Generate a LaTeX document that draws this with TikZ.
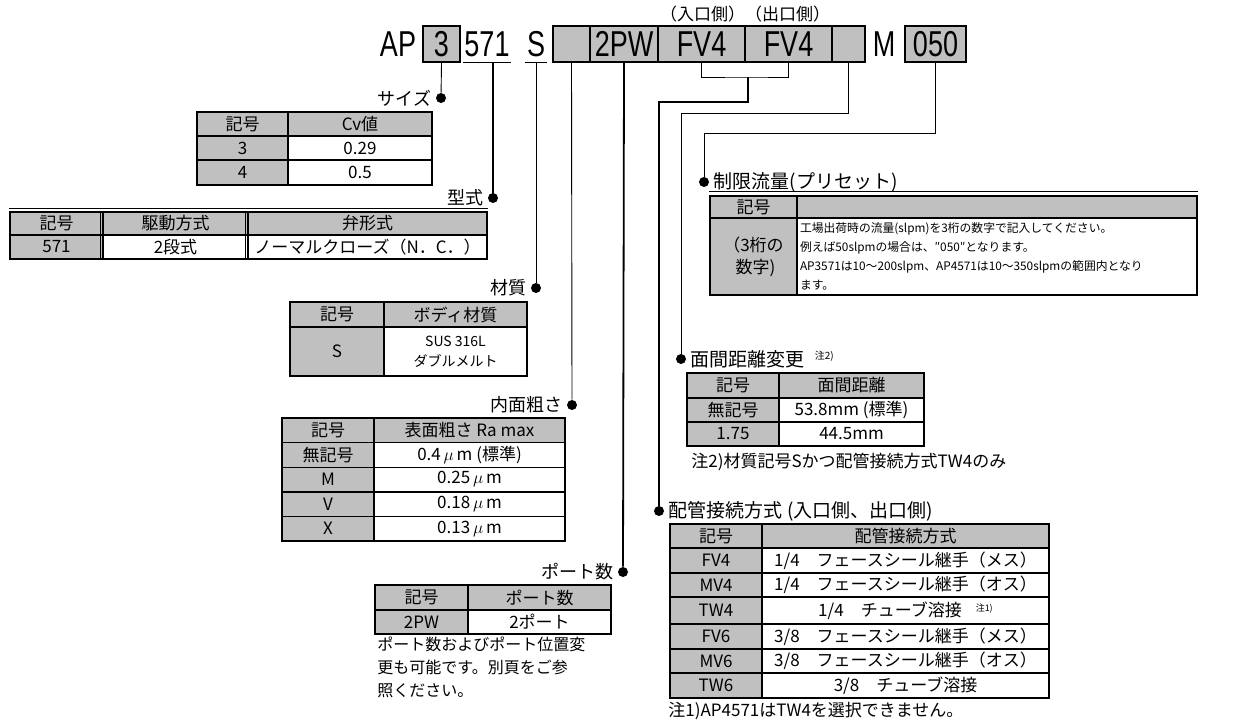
\documentclass[tikz,border=0pt]{standalone}
\usepackage{fontspec}
\setmainfont{Noto Sans CJK JP}
\newfontfamily\codefont[FakeStretch=0.75]{Liberation Sans}
\usetikzlibrary{positioning}
\definecolor{cellgray}{RGB}{192,192,192}

\begin{document}
\begin{tikzpicture}[
  x=1pt, y=-1pt, line width=0.8pt,
  codebox/.style={rectangle, draw=black, line width=2.2pt, fill=cellgray, inner sep=0pt, minimum height=36pt, font=\codefont\fontsize{36}{36}\selectfont},
  codetext/.style={rectangle, inner sep=0pt, minimum height=36pt, font=\codefont\fontsize{36}{36}\selectfont},
  keycell/.style={rectangle, draw=black, line width=1.4pt, fill=cellgray, inner sep=0pt, font=\fontsize{17}{20}\selectfont},
  valcell/.style={keycell, fill=white},
  dot/.style={circle, fill=black, inner sep=0pt, minimum size=10pt},
  lbl/.style={inner sep=1pt, font=\fontsize{18}{20}\selectfont},
  rlbl/.style={inner sep=1pt, font=\fontsize{19}{21}\selectfont},
  note/.style={inner sep=0pt, font=\fontsize{17}{23}\selectfont, align=left},
  thinline/.style={line width=0.9pt},
  thickline/.style={line width=1.8pt}
]
\useasboundingbox (0,0) rectangle (1239,722);

% code row
\node[codetext] (tAP) at (398,44) {AP};
\node[codebox, minimum width=37pt] (b3) at (441.5,44) {3};
\node[codetext, minimum width=47pt] (t571) at (487,44) {571};
\node[codetext, minimum width=22pt] (tS) at (536,44) {S};
\node[codebox, minimum width=37pt] (bA) at (571.5,44) {};
\node[codebox, minimum width=68pt] (b2PW) at (624,44) {2PW};
\node[codebox, minimum width=87pt] (bFVin) at (701.5,44) {FV4};
\node[codebox, minimum width=87pt] (bFVout) at (788.5,44) {FV4};
\node[codebox, minimum width=33pt] (bB) at (848.5,44) {};
\node[codetext] (tM) at (884,44) {M};
\node[codebox, minimum width=61pt] (b050) at (935.5,44) {050};
\node[lbl, font=\fontsize{17}{18}\selectfont] (tSide) at (745,14) {（入口側）（出口側）};
\draw (t571.south west) -- (t571.south east);
\draw (tS.south west) -- (tS.south east);

% dots and labels
\node[dot] (d3) at (441,98) {};
\node[dot] (d571) at (493,198) {};
\node[dot] (dS) at (536,288) {};
\node[dot] (dA) at (572,405) {};
\node[dot] (d2PW) at (623,572) {};
\node[dot] (dFlow) at (704,182) {};
\node[dot] (dFace) at (681,359) {};
\node[dot] (dPipe) at (659,511) {};
\coordinate (brk) at (748,77);

\node[lbl, left=3pt of d3] (lSize) {サイズ};
\node[lbl, left=3pt of d571] (lType) {型式};
\node[lbl, left=3pt of dS] (lMat) {材質};
\node[lbl, left=3pt of dA] (lRough) {内面粗さ};
\node[lbl, left=3pt of d2PW] (lPort) {ポート数};
\node[rlbl, right=3pt of dFlow] (lFlow) {制限流量(プリセット)};
\node[rlbl, right=3pt of dFace] (lFace) {面間距離変更\hspace{10pt}\raisebox{7pt}{\fontsize{10}{10}\selectfont 注2)}};
\node[rlbl, right=3pt of dPipe] (lPipe) {配管接続方式 (入口側、出口側)};

% connectors
\draw[thinline] (b3.south) -- (d3);
\draw[thickline] (d571 |- t571.south) -- (d571);
\draw[thinline] (tS.south) -- (dS);
\draw[thinline] (bA.south) -- (dA);
\draw[thickline] (b2PW.south) -- (d2PW);
\draw[thinline] (bFVin.south) |- (brk) -| (bFVout.south);
\draw[thickline] (brk) -- ++(0,25) -| (dPipe);
\draw[thinline] (bB.south) -- ++(0,50) -| (dFace);
\draw[thinline] (b050.south) -- ++(0,70) -| (dFlow);

% size
\node[keycell, minimum width=91pt, minimum height=24pt] (sH1) at (242.5,124) {記号};
\node[keycell, minimum width=144pt, minimum height=24pt] (sH2) at (360,124) {Cv値};
\node[keycell, minimum width=91pt, minimum height=24pt] (s3a) at (242.5,148) {3};
\node[valcell, minimum width=144pt, minimum height=24pt] (s3b) at (360,148) {0.29};
\node[keycell, minimum width=91pt, minimum height=25pt] (s4a) at (242.5,172.5) {4};
\node[valcell, minimum width=144pt, minimum height=25pt] (s4b) at (360,172.5) {0.5};

% type
\node[keycell, minimum width=93pt, minimum height=23pt] (kH1) at (56.5,223.5) {記号};
\node[keycell, minimum width=145pt, minimum height=23pt] (kH2) at (175.5,223.5) {駆動方式};
\node[keycell, minimum width=239pt, minimum height=23pt] (kH3) at (367.5,223.5) {弁形式};
\node[keycell, minimum width=93pt, minimum height=24pt] (k571) at (56.5,247) {571};
\node[valcell, minimum width=145pt, minimum height=24pt] (k2dan) at (175.5,247) {2段式};
\node[valcell, minimum width=239pt, minimum height=24pt] (kNC) at (367.5,247) {ノーマルクローズ（N．C．）};
\draw[line width=0.7pt] ([yshift=3pt]kH1.north west) -- ([yshift=3pt]kH3.north east);
\draw[line width=0.7pt] ([xshift=-3.5pt]kH1.north east) -- ([xshift=-3.5pt]k571.south east);
\draw[line width=0.7pt] ([xshift=-3.5pt]kH2.north east) -- ([xshift=-3.5pt]k2dan.south east);

% material
\node[keycell, minimum width=94pt, minimum height=25pt] (mH1) at (337,314.5) {記号};
\node[keycell, minimum width=143pt, minimum height=25pt] (mH2) at (455.5,314.5) {ボディ材質};
\node[keycell, minimum width=94pt, minimum height=49pt] (mS) at (337,351.5) {S};
\node[valcell, minimum width=143pt, minimum height=49pt, align=center, font=\fontsize{14}{20}\selectfont] (mVal) at (455.5,351.5) {SUS 316L\\ダブルメルト};

% roughness
\node[keycell, minimum width=92pt, minimum height=24.6pt] (rH1) at (328,430.3) {記号};
\node[keycell, minimum width=191pt, minimum height=24.6pt] (rH2) at (469.5,430.3) {表面粗さ Ra max};
\node[keycell, minimum width=92pt, minimum height=24.6pt] (rN1) at (328,454.9) {無記号};
\node[valcell, minimum width=191pt, minimum height=24.6pt] (rN2) at (469.5,454.9) {0.4\,$\mu$\,m (標準)};
\node[keycell, minimum width=92pt, minimum height=24.6pt] (rM1) at (328,479.5) {M};
\node[valcell, minimum width=191pt, minimum height=24.6pt] (rM2) at (469.5,479.5) {0.25\,$\mu$\,m};
\node[keycell, minimum width=92pt, minimum height=24.6pt] (rV1) at (328,504.1) {V};
\node[valcell, minimum width=191pt, minimum height=24.6pt] (rV2) at (469.5,504.1) {0.18\,$\mu$\,m};
\node[keycell, minimum width=92pt, minimum height=24.6pt] (rX1) at (328,528.7) {X};
\node[valcell, minimum width=191pt, minimum height=24.6pt] (rX2) at (469.5,528.7) {0.13\,$\mu$\,m};

% ports
\node[keycell, minimum width=93pt, minimum height=25pt] (pH1) at (421.5,597.5) {記号};
\node[keycell, minimum width=143pt, minimum height=25pt] (pH2) at (539.5,597.5) {ポート数};
\node[keycell, minimum width=93pt, minimum height=24pt] (p2a) at (421.5,622) {2PW};
\node[valcell, minimum width=143pt, minimum height=24pt] (p2b) at (539.5,622) {2ポート};
\node[note, anchor=north west, font=\fontsize{16}{23}\selectfont] (pNote) at (377,637) {ポート数およびポート位置変\\更も可能です。別頁をご参\\照ください。};

% flow preset
\node[keycell, minimum width=87pt, minimum height=22pt] (fH1) at (753.5,207) {記号};
\node[keycell, minimum width=400pt, minimum height=22pt] (fH2) at (997,207) {};
\node[keycell, minimum width=87pt, minimum height=77pt, align=center, font=\fontsize{17}{22}\selectfont] (fKey) at (753.5,256.5) {（3桁の\\\ 数字)};
\node[valcell, minimum width=400pt, minimum height=77pt, text width=394pt, align=left, font=\fontsize{11.8}{19}\selectfont] (fVal) at (997,256.5) {工場出荷時の流量(slpm)を3桁の数字で記入してください。\\例えば50slpmの場合は、″050″となります。\\AP3571は10～200slpm、AP4571は10～350slpmの範囲内となり\\ます。};
\draw[line width=0.7pt] ([yshift=4pt]fH1.north west) -- ([yshift=4pt]fH2.north east);

% face to face
\node[keycell, minimum width=92pt, minimum height=25pt] (dH1) at (733,385.5) {記号};
\node[keycell, minimum width=145pt, minimum height=25pt] (dH2) at (851.5,385.5) {面間距離};
\node[keycell, minimum width=92pt, minimum height=24pt] (dN1) at (733,410) {無記号};
\node[valcell, minimum width=145pt, minimum height=24pt] (dN2) at (851.5,410) {53.8mm (標準)};
\node[keycell, minimum width=92pt, minimum height=24pt] (dS1) at (733,434) {1.75};
\node[valcell, minimum width=145pt, minimum height=24pt] (dS2) at (851.5,434) {44.5mm};
\node[note, anchor=west] (dNote) at (691,462) {注2)材質記号Sかつ配管接続方式TW4のみ};

% connections
\node[keycell, minimum width=92pt, minimum height=24pt] (cH1) at (716,536) {記号};
\node[keycell, minimum width=287pt, minimum height=24pt] (cH2) at (905.5,536) {配管接続方式};
\node[keycell, minimum width=92pt, minimum height=25pt] (cFV4a) at (716,560.5) {FV4};
\node[valcell, minimum width=287pt, minimum height=25pt] (cFV4b) at (905.5,560.5) {1/4　フェースシール継手（メス）};
\node[keycell, minimum width=92pt, minimum height=24pt] (cMV4a) at (716,585) {MV4};
\node[valcell, minimum width=287pt, minimum height=24pt] (cMV4b) at (905.5,585) {1/4　フェースシール継手（オス）};
\node[keycell, minimum width=92pt, minimum height=27pt] (cTW4a) at (716,610.5) {TW4};
\node[valcell, minimum width=287pt, minimum height=27pt] (cTW4b) at (905.5,610.5) {1/4　チューブ溶接\hspace{14pt}\raisebox{5pt}{\fontsize{9}{9}\selectfont 注1)}};
\node[keycell, minimum width=92pt, minimum height=25pt] (cFV6a) at (716,636.5) {FV6};
\node[valcell, minimum width=287pt, minimum height=25pt] (cFV6b) at (905.5,636.5) {3/8　フェースシール継手（メス）};
\node[keycell, minimum width=92pt, minimum height=24pt] (cMV6a) at (716,661) {MV6};
\node[valcell, minimum width=287pt, minimum height=24pt] (cMV6b) at (905.5,661) {3/8　フェースシール継手（オス）};
\node[keycell, minimum width=92pt, minimum height=25pt] (cTW6a) at (716,685.5) {TW6};
\node[valcell, minimum width=287pt, minimum height=25pt] (cTW6b) at (905.5,685.5) {3/8　チューブ溶接};
\node[note, anchor=west] (cNote) at (668,711) {注1)AP4571はTW4を選択できません。};

\end{tikzpicture}
\end{document}
